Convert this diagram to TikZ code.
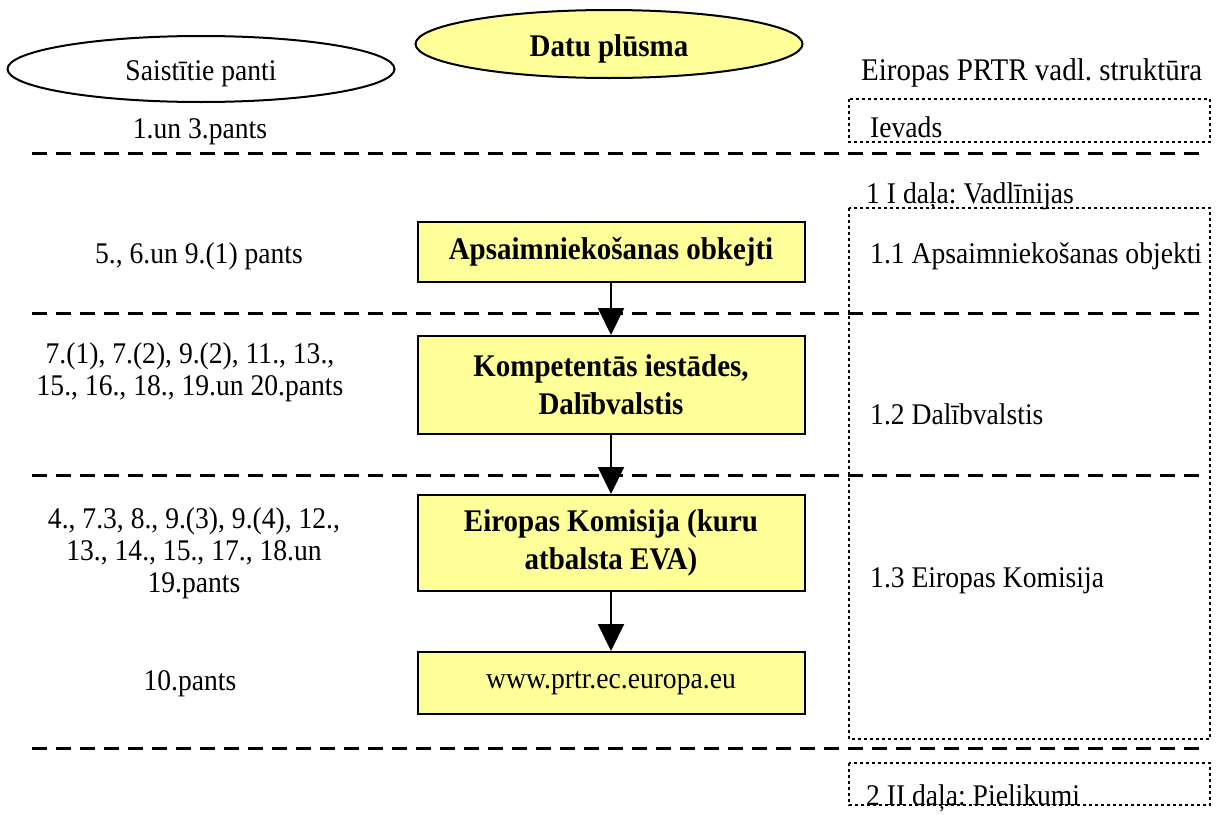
\documentclass[tikz,border=0pt]{standalone}
\usepackage{fontspec}
\setmainfont[FakeStretch=0.92]{Liberation Serif}
\frenchspacing
\usetikzlibrary{shapes.geometric}
\usetikzlibrary{arrows.meta}
\definecolor{boxyellow}{HTML}{FFFF99}
\tikzset{
  flowbox/.style={draw, line width=2pt, fill=boxyellow, minimum width=387pt, align=center, inner sep=0pt, font=\bfseries\fontsize{31.5}{38}\selectfont},
  oval/.style={ellipse, draw, line width=2pt, minimum width=387pt, minimum height=66pt, inner sep=0pt, font=\fontsize{30}{32}\selectfont},
  article/.style={align=center, inner sep=0pt, font=\fontsize{30}{32}\selectfont},
  guide/.style={anchor=base west, inner sep=0pt, font=\fontsize{30}{32}\selectfont},
  sepline/.style={line width=3pt, dash pattern=on 15pt off 9pt},
  dotbox/.style={line width=2.5pt, dash pattern=on 3pt off 3pt},
  flow/.style={line width=2pt, -{Triangle[width=26pt,length=27pt]}}
}
\begin{document}
\begin{tikzpicture}[x=1pt, y=-1pt]
\useasboundingbox (0,0) rectangle (1220,814);
\node[oval] (panti) at (201,69) {};
\node[article, anchor=base] (pantitext) at (201,80) {Saistītie panti};
\node[oval, fill=boxyellow, minimum height=68pt] (plusma) at (609,44) {};
\node[article, anchor=base, font=\bfseries\fontsize{31.5}{32}\selectfont] (plusmatext) at (609,56) {Datu plūsma};
\node[guide, font=\fontsize{31.5}{32}\selectfont] (struktura) at (861,80) {Eiropas PRTR vadl. struktūra};

\node[article, anchor=base] (art1) at (200,138) {1.un 3.pants};
\node[article, anchor=base] (art2) at (199,263) {5., 6.un 9.(1) pants};
\node[article] (art3) at (190,372) {7.(1), 7.(2), 9.(2), 11., 13.,\\15., 16., 18., 19.un 20.pants};
\node[article] (art4) at (194,553) {4., 7.3, 8., 9.(3), 9.(4), 12.,\\13., 14., 15., 17., 18.un\\19.pants};
\node[article, anchor=base] (art5) at (190,690) {10.pants};

\node[flowbox, minimum height=60pt] (operators) at (611,252) {Apsaimniekošanas obkejti};
\node[flowbox, minimum height=98pt] (authorities) at (611,385) {Kompetentās iestādes,\\Dalībvalstis};
\node[flowbox, minimum height=96pt] (commission) at (611,543) {Eiropas Komisija (kuru\\atbalsta EVA)};
\node[flowbox, minimum height=62pt, font=\fontsize{30}{32}\selectfont] (website) at (611,683) {www.prtr.ec.europa.eu};

\draw[flow] (operators) -- (authorities);
\draw[flow] (authorities) -- (commission);
\draw[flow] (commission) -- (website);

\draw[dotbox] (849,99) rectangle (1210,142);
\node[guide] (ievads) at (870,137) {Ievads};
\node[guide] (dala1) at (866,203) {1 I daļa: Vadlīnijas};
\draw[dotbox] (849,208) rectangle (1210,739);
\node[guide] (sec11) at (870,263) {1.1 Apsaimniekošanas objekti};
\node[guide] (sec12) at (870,424) {1.2 Dalībvalstis};
\node[guide] (sec13) at (870,587) {1.3 Eiropas Komisija};
\draw[dotbox] (849,763) rectangle (1210,805);
\node[guide] (dala2) at (866,805) {2 II daļa: Pielikumi};

\draw[sepline] (32,153) -- (1200,153);
\draw[sepline] (32,313) -- (1200,313);
\draw[sepline] (32,475) -- (1200,475);
\draw[sepline] (32,748) -- (1200,748);
\end{tikzpicture}
\end{document}
